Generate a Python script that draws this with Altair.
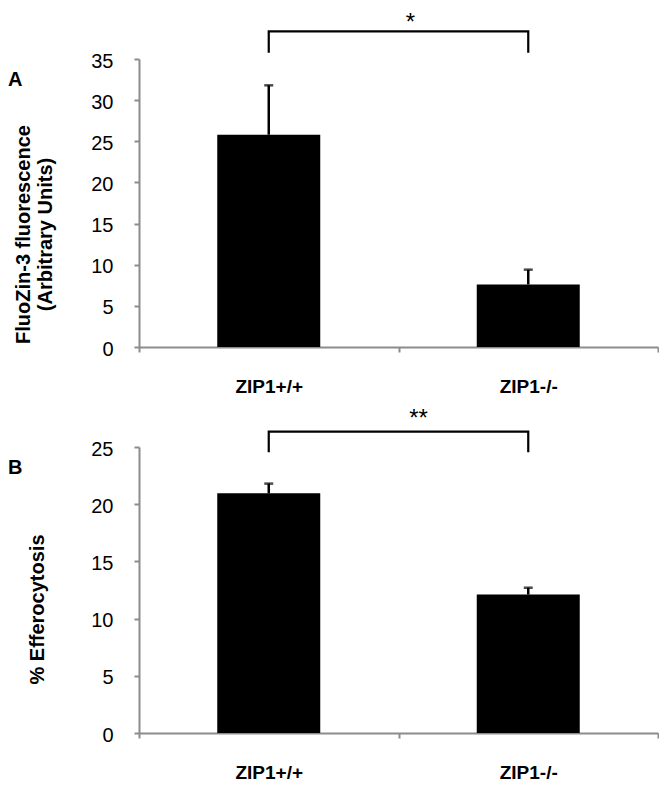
import altair as alt
import pandas as pd

groups = ["ZIP1+/+", "ZIP1-/-"]

# Panel A: FluoZin-3 fluorescence (mean and SEM)
zinc_means = [25.8, 7.6]
zinc_sem = [6.0, 1.8]
zinc_ticks = [0, 5, 10, 15, 20, 25, 30, 35]

# Panel B: % Efferocytosis (mean and SEM)
eff_means = [20.95, 12.1]
eff_sem = [0.85, 0.6]
eff_ticks = [0, 5, 10, 15, 20, 25]

NARROW = "Liberation Sans Narrow, Arial Narrow, Liberation Sans, Arial, sans-serif"
BOLD = "Liberation Sans, Arial, sans-serif"
W = 519
GREY = "#8c8c8c"


def panel(means, sems, ticks, title, title_x, title_y, letter, sig, sig_dx,
          bracket_top, bracket_low, star_y, height):
    ymax = ticks[-1]
    df = pd.DataFrame({
        "group": groups,
        "mean": means,
        "hi": [m + s for m, s in zip(means, sems)],
    })
    xsort = alt.X("group:N", sort=groups)
    xenc = alt.X(
        "group:N", sort=groups,
        scale=alt.Scale(paddingInner=0, paddingOuter=0),
        axis=alt.Axis(title=None, labelAngle=0, tickBand="extent", labelFont=BOLD,
                      labelFontWeight="bold", labelFontSize=19, labelColor="black",
                      labelPadding=25, tickSize=5, tickColor=GREY, domainColor=GREY,
                      domainWidth=2, tickWidth=2),
    )
    yscale = alt.Scale(domain=[0, ymax], nice=False)
    yenc = alt.Y(
        "mean:Q", scale=yscale,
        axis=alt.Axis(values=ticks, grid=False, labelOverlap=False, labelFlush=False,
                      title=title, titleFont=BOLD, titleFontWeight="bold",
                      titleFontSize=20, titleColor="black", titleLineHeight=22,
                      titleX=title_x, titleY=title_y, titleBaseline="bottom",
                      titleAngle=270,
                      labelFont=NARROW, labelFontSize=20, labelColor="black",
                      labelPadding=21, labelOffset=2, tickSize=5, tickColor=GREY,
                      domainColor=GREY, domainWidth=2, tickWidth=2),
    )
    bars = alt.Chart(df).mark_bar(color="black", size=103).encode(x=xenc, y=yenc)
    err = alt.Chart(df).mark_rule(color="black", strokeWidth=2.5).encode(
        x=xsort, y="mean:Q", y2="hi:Q")
    cap = alt.Chart(df).mark_tick(color="black", size=9, thickness=2.5).encode(
        x=xsort, y="hi:Q")

    bdf = pd.DataFrame({
        "group": [groups[0], groups[0], groups[1], groups[1]],
        "y": [bracket_low, bracket_top, bracket_top, bracket_low],
        "o": [0, 1, 2, 3],
    })
    bracket = alt.Chart(bdf).mark_line(color="black", strokeWidth=2.2, clip=False).encode(
        x=xsort, y=alt.Y("y:Q", scale=yscale), order="o:Q")
    sdf = pd.DataFrame({"t": [sig], "y": [star_y]})
    star = alt.Chart(sdf).mark_text(fontSize=24, font=BOLD, color="black", baseline="top",
                                    clip=False).encode(
        x=alt.value(W / 2 + sig_dx), y=alt.Y("y:Q", scale=yscale), text="t:N")
    ldf = pd.DataFrame({"t": [letter]})
    lab = alt.Chart(ldf).mark_text(fontSize=20, font=BOLD, fontWeight="bold", color="black",
                                   align="left", baseline="alphabetic").encode(
        x=alt.value(-131), y=alt.value(27), text="t:N")
    return alt.layer(bars, err, cap, bracket, star, lab).properties(width=W, height=height)


a = panel(zinc_means, zinc_sem, zinc_ticks,
          ["FluoZin-3 fluorescence", "(Arbitrary Units)"], -106, 175, "A", "*", 12,
          38.35, 35.75, 40.8, 288)
b = panel(eff_means, eff_sem, eff_ticks, "% Efferocytosis", -92, 162, "B", "**", 20,
          26.35, 24.55, 28.5, 286)

chart = (
    alt.vconcat(a, b, spacing=100, bounds="flush")
    .configure_view(stroke=None)
    .properties(padding={"top": 3, "left": 0, "right": 0, "bottom": 0})
)
chart.save("out.html", embed_options={"renderer": "svg", "actions": False})
